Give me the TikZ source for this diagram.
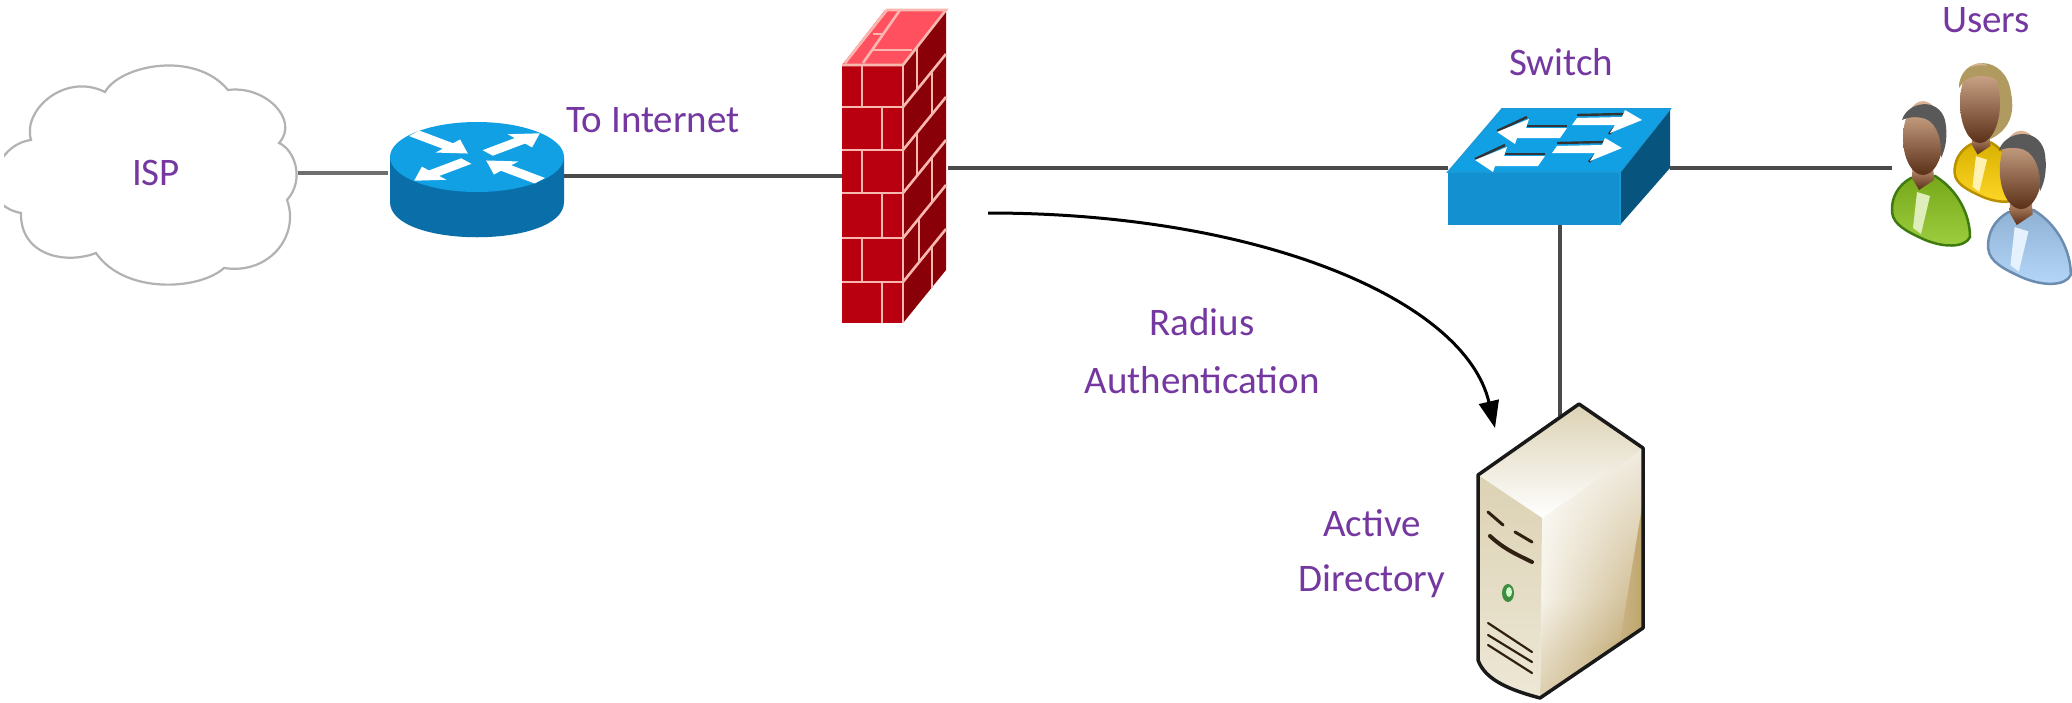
\documentclass[tikz,border=0pt]{standalone}
\usepackage{fontspec}
\setmainfont{Carlito}
\usetikzlibrary{arrows.meta,shadings,fadings}
\definecolor{labelpurple}{HTML}{7438A0}
\definecolor{wirecol}{HTML}{4A4A4A}
\definecolor{ciscotop}{HTML}{12A0E4}
\definecolor{ciscoside}{HTML}{0A6FA8}
\definecolor{ciscofront}{HTML}{1290D0}
\definecolor{ciscodark}{HTML}{07557F}
\definecolor{brickfront}{HTML}{B80010}
\definecolor{brickside}{HTML}{8A0008}
\definecolor{bricktop}{HTML}{FF5060}
\definecolor{mortar}{HTML}{F8B8B0}
\definecolor{skinA}{HTML}{DDB698}
\definecolor{skinB}{HTML}{C89A78}
\definecolor{skinC}{HTML}{5A3018}
\definecolor{blond}{HTML}{B09A60}
\definecolor{sandA}{HTML}{DCD2B4}
\definecolor{sandB}{HTML}{BFA56C}
\definecolor{sandC}{HTML}{F4F0E4}
\definecolor{bodyG}{HTML}{8CC61E}
\definecolor{bodyGd}{HTML}{3E7A10}
\definecolor{bodyY}{HTML}{FFD000}
\definecolor{bodyYd}{HTML}{B89000}
\definecolor{bodyB}{HTML}{A8D0F8}
\definecolor{bodyBd}{HTML}{6C8CB0}
\tikzset{
  lbl/.style={text=labelpurple,font=\fontsize{39}{43}\selectfont,inner sep=0pt,align=center},
  wire/.style={draw=wirecol,line width=3.2pt},
  joint/.style={draw=mortar,line width=2.6pt},
  ventline/.style={draw=black!75!brown,line width=2.2pt,line cap=round},
}
\newcommand{\person}[7]{%
 \begin{scope}[shift={(#1,#2)},scale=#3]
  \path[draw=#5,line width=2.5pt,top color=#4!85!black,bottom color=#4!85!white]
    (-12,38) .. controls (-25,45) and (-32,58) .. (-31,72)
    .. controls (-30,85) and (-15,92) .. (0,99)
    .. controls (20,108) and (42,108) .. (47,97)
    .. controls (47,75) and (35,50) .. (12,36) -- cycle;
  \fill[white!70!#4] (-6,52) -- (-10,88) -- (-2,94) -- (7,56) -- cycle;
  \path[top color=#6,bottom color=#7] (-10,25) -- (10,25) -- (11,40) -- (-4,50) -- (-11,38) -- cycle;
 \end{scope}}
\newcommand{\headhair}[5]{%
 \begin{scope}[shift={(#1,#2)},scale=#3]
  \path[top color=#5,middle color=skinB,bottom color=skinC] (0,-2) ellipse[x radius=20,y radius=37];
  \fill[#4] (-21,-20) .. controls (-16,-38) and (15,-44) .. (22,-20)
    .. controls (25,-5) and (23,8) .. (18,18)
    .. controls (19,2) and (15,-16) .. (3,-21)
    .. controls (-6,-24) and (-15,-23) .. (-21,-20) -- cycle;
 \end{scope}}
\begin{document}
\begin{tikzpicture}[x=1pt,y=-1pt]
\useasboundingbox[fill=white] (0,0) rectangle (2072,702);
% anchor points of the connectors
\coordinate (ispE) at (298,173);
\coordinate (rtW) at (388,173);
\coordinate (rtE) at (564,176);
\coordinate (fwW) at (842,176);
\coordinate (fwE) at (948,168);
\coordinate (swW) at (1448,168);
\coordinate (swE) at (1670,168);
\coordinate (usW) at (1892,168);
\coordinate (swS) at (1560,225);
\coordinate (srvN) at (1560,416);
\coordinate (radA) at (988,213);
\coordinate (radB) at (1495,428);
% connectors
\draw[draw=wirecol!80,line width=4.5pt] (ispE) -- (rtW);
\draw[wire] (rtE) -- (fwW);
\draw[wire] (fwE) -- (swW);
\draw[wire] (swE) -- (usW);
\draw[wire,line width=3.6pt] (swS) -- (srvN);
\draw[draw=black,line width=3pt,-{Triangle[width=20pt,length=27pt]}] (radA) .. controls (1260,213) and (1465,300) .. (radB);
% cloud
\begin{scope}
\clip (4,0) rectangle (400,320);
\draw[draw=black!30,line width=2.2pt,fill=white]
 (-6,180) .. controls (-2,155) and (15,142) .. (31,140)
 .. controls (22,110) and (65,72) .. (105,92)
 .. controls (120,65) and (195,50) .. (228,90)
 .. controls (265,85) and (300,120) .. (279,143)
 .. controls (295,150) and (305,180) .. (287,200)
 .. controls (300,235) and (270,275) .. (224,268)
 .. controls (200,290) and (125,295) .. (96,253)
 .. controls (65,265) and (20,255) .. (21,213)
 .. controls (5,210) and (-8,200) .. (-6,180) -- cycle;
\end{scope}
% router
\fill[ciscoside] (390,157) -- (390,202) .. controls (390,249) and (564,249) .. (564,202) -- (564,157) -- cycle;
\fill[ciscotop] (477,157) ellipse[x radius=87,y radius=35];
\foreach \ang in {40,220}{
  \begin{scope}[shift={(477,157)},yscale=.45,rotate=\ang]
   \fill[white] (14,-8) -- (56,-8) -- (56,-19) -- (82,0) -- (56,19) -- (56,8) -- (14,8) -- cycle;
  \end{scope}}
\foreach \ang in {140,320}{
  \begin{scope}[shift={(477,157)},yscale=.45,rotate=\ang]
   \fill[white] (12,0) -- (38,19) -- (38,8) -- (82,8) -- (82,-8) -- (38,-8) -- (38,-19) -- cycle;
  \end{scope}}
% firewall
\fill[bricktop] (842,65) -- (885,10) -- (946,10) -- (903,65) -- cycle;
\fill[brickside] (903,65) -- (946,10) -- (946,270) -- (903,323) -- cycle;
\fill[brickfront] (842,65) rectangle (903,323);
\draw[joint] (845,63) -- (887,10) -- (946,10) -- (903,65) -- (842,65);
\draw[joint] (863,63) -- (900,10);
\draw[joint] (872,50) -- (912,50);
\draw[joint] (873,34) -- (884,34);
\foreach \y in {107,150,193,238,282} \draw[joint] (842,\y) -- (903,\y);
\foreach \y/\a/\b in {65/107/862,107/150/882,150/193/862,193/238/882,238/282/862,282/323/882}
  \draw[joint] (\b,\y) -- (\b,\a);
\draw[joint] (903,65) -- (903,323);
\foreach \y in {107,150,193,238,282} \draw[joint] (903,\y) -- (946,\y-53);
\foreach \y/\a/\b in {47/89/917,72/115/932,132/175/917,158/203/932,218/262/919,247/288/932}{
  \draw[joint,line width=2pt] (\b,\y) -- (\b,\a);}
% switch
\fill[ciscodark] (1620,172) -- (1670,108) -- (1670,168) -- (1620,225) -- cycle;
\fill[ciscotop] (1448,172) -- (1502,108) -- (1670,108) -- (1620,172) -- cycle;
\fill[ciscofront] (1448,172) rectangle (1620,225);
\draw[draw=cyan!50!ciscotop,line width=1.6pt] (1448,172) -- (1502,109) -- (1670,109) -- (1620,172) -- cycle (1620,172) -- (1620,225);
\foreach \x/\y in {1497/132,1475/160}{
  \begin{scope}[shift={(\x,\y)}]
   \draw[draw=black!80,line width=2.4pt] (30,-15) -- (0,-1);
   \draw[draw=black!80,line width=2.4pt] (30,-6) -- (70,-6);
   \fill[white] (0,0) -- (32,-13) -- (29,-4) -- (70,-4) -- (63,6) -- (20,6) -- (18,12) -- cycle;
  \end{scope}}
\foreach \x/\y in {1642/120,1622/148}{
  \begin{scope}[shift={(\x,\y)}]
   \draw[draw=black!80,line width=2.4pt] (-65,-5) -- (-18,-6);
   \draw[draw=black!80,line width=2.4pt] (-27,7) -- (-33,14);
   \fill[white] (0,0) -- (-17,-10) -- (-20,-3) -- (-65,-2) -- (-70,5) -- (-27,5) -- (-32,13) -- cycle;
  \end{scope}}
% server
\path[left color=sandC,middle color=sandA!70!white,right color=sandB]
  (1542,518) -- (1643,448) -- (1643,628) -- (1540,698) -- cycle;
\fill[white,path fading=south,opacity=.8]
  (1542,518) -- (1643,448) -- (1643,500) -- (1620,640) -- (1540,660) -- cycle;
\fill[sandB,path fading=north,opacity=.45]
  (1542,600) -- (1643,600) -- (1643,628) -- (1540,698) -- cycle;
\path[top color=sandA,bottom color=white] (1478,475) -- (1579,404) -- (1643,448) -- (1542,518) -- cycle;
\path[top color=sandA,bottom color=sandC!70!sandA] (1478,475) -- (1542,518) -- (1540,698)
  .. controls (1510,690) and (1485,680) .. (1478,660) -- cycle;
\draw[draw=black!90,line width=3.5pt,line join=round] (1478,475) -- (1579,404) -- (1643,448) -- (1643,628) -- (1540,698)
  .. controls (1510,690) and (1485,680) .. (1478,660) -- cycle;
\draw[ventline,line width=3pt] (1488,512) -- (1503,525);
\draw[ventline,line width=3pt] (1515,532) -- (1532,542);
\draw[ventline,line width=4pt] (1490,536) .. controls (1505,550) and (1520,556) .. (1532,562);
\fill[black!40!green!50!gray] (1508,593) ellipse[x radius=6,y radius=9];
\fill[white!80!green] (1509,592) ellipse[x radius=3,y radius=5];
\draw[ventline] (1488,623) -- (1532,652);
\draw[ventline] (1488,635) -- (1532,662);
\draw[ventline] (1488,645) -- (1532,673);
% users
\person{1981}{112}{.85}{bodyY}{bodyYd}{skinB}{skinC}
\begin{scope}[shift={(1981,103)}]
 \fill[blond] (-22,-15) .. controls (-22,-48) and (25,-50) .. (30,-10)
   .. controls (35,15) and (25,30) .. (5,38) .. controls (20,15) and (20,-5) .. (10,-20)
   .. controls (0,-28) and (-15,-28) .. (-22,-15) -- cycle;
 \path[top color=skinA,middle color=skinB,bottom color=skinC] (-1,0) ellipse[x radius=20,y radius=40];
 \fill[blond] (-22,-17) .. controls (-20,-44) and (20,-46) .. (24,-15)
   .. controls (15,-30) and (-10,-32) .. (-22,-17) -- cycle;
\end{scope}
\person{1923}{140}{1}{bodyG}{bodyGd}{skinB}{skinC}
\headhair{1923}{140}{1}{black!65}{skinA}
\person{2021}{172}{1.06}{bodyB}{bodyBd}{skinB}{skinC}
\headhair{2021}{172}{1.06}{black!65}{skinA}
% labels
\node[lbl] (ispL) at (156,173) {ISP};
\node[lbl] (inetL) at (653,120) {To Internet};
\node[lbl] (swL) at (1561,62) {Switch};
\node[lbl] (usL) at (1986,20) {Users};
\node[lbl] (radL) at (1202,322) {Radius};
\node[lbl] (authL) at (1202,380) {Authentication};
\node[lbl] (actL) at (1372,523) {Active};
\node[lbl] (dirL) at (1372,581) {Directory};
\end{tikzpicture}
\end{document}
